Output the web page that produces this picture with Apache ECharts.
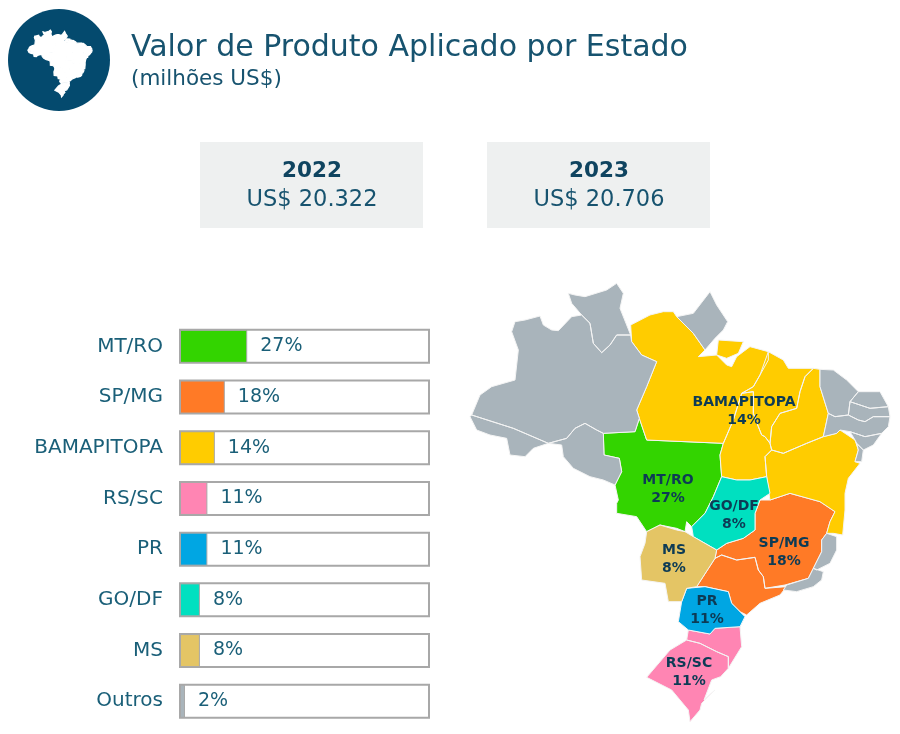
<!DOCTYPE html>
<html><head><meta charset="utf-8">
<style>html,body{margin:0;padding:0;background:#fff}#c{width:900px;height:734px}</style>
<script src="https://cdn.jsdelivr.net/npm/echarts@6/dist/echarts.min.js"></script>
</head><body><div id="c"></div>
<script>
const FONT = '"DejaVu Sans", sans-serif';
const categories = ['MT/RO','SP/MG','BAMAPITOPA','RS/SC','PR','GO/DF','MS','Outros'];
const shares = [27,18,14,11,11,8,8,2];
const colors = ['#33d400','#ff7a26','#ffcc00','#ff85b3','#00a6e3','#00e0c0','#e4c565','#a9b4bb'];
const years = ['2022','2023'];
const totals = ['US$ 20.322','US$ 20.706'];

// Outlines, in crop coordinates
const north = (pts)=>pts.map(p=>[p[0]/3+460,-(p[1]/3+280)]);
const south = (pts)=>pts.map(p=>[p[0]/3+600,-(p[1]/3+480)]);
const AM = north([[155,155],[165,125],[195,120],[240,108],[250,135],[275,150],[295,152],[335,110],[365,105],[390,130],[400,190],[425,218],[450,195],[470,165],[512,165],[515,185],[545,225],[590,245],[560,320],[530,390],[538,415],[525,455],[430,460],[410,450],[375,430],[345,445],[320,475],[265,490],[160,445],[35,405],[60,345],[95,320],[165,300],[175,210]]);
const AC = north([[30,410],[35,405],[160,445],[265,490],[220,505],[195,530],[150,525],[140,475],[90,465],[50,450]]);
const RO = north([[320,475],[345,445],[375,430],[410,450],[430,460],[432,525],[478,535],[485,575],[465,615],[430,600],[390,590],[340,565],[310,530],[305,495],[265,490]]);
const RR = north([[325,40],[345,45],[375,50],[440,30],[470,10],[490,40],[480,85],[512,165],[470,165],[450,195],[425,218],[400,190],[390,130],[365,105],[335,70]]);
const AP = north([[650,110],[700,100],[750,35],[770,75],[803,125],[790,150],[765,175],[735,210],[700,160]]);
const PA = north([[512,135],[570,105],[610,95],[640,95],[650,110],[700,160],[735,210],[715,230],[770,225],[800,255],[815,260],[830,230],[870,200],[925,215],[925,240],[900,285],[880,320],[845,340],[820,420],[790,490],[560,480],[538,415],[530,390],[560,320],[590,245],[545,225],[515,185]]);
const MJ = north([[775,180],[850,185],[835,220],[800,235],[770,225]]);
const MA = north([[925,215],[970,240],[985,265],[1060,265],[1035,290],[1020,335],[1010,385],[960,400],[935,440],[930,490],[915,470],[905,465],[895,440],[880,400],[880,335],[845,340],[880,320],[900,285]]);
const TO = north([[845,340],[880,335],[880,400],[895,440],[905,465],[915,470],[930,490],[935,510],[915,530],[920,590],[870,600],[830,600],[785,590],[780,525],[790,490],[820,420]]);
const PI = north([[1080,268],[1080,320],[1105,400],[1090,470],[1040,490],[970,520],[935,510],[930,490],[935,440],[960,400],[1010,385],[1020,335],[1035,290],[1060,265]]);
const BA = north([[1140,450],[1185,480],[1195,510],[1185,545],[1200,550],[1165,595],[1155,640],[1155,690],[1148,765],[1120,760],[1100,760],[1110,725],[1125,695],[1080,665],[990,640],[930,660],[920,590],[915,530],[935,510],[970,520],[1040,490],[1090,470],[1130,460]]);
const CE = north([[1080,268],[1120,270],[1160,300],[1195,335],[1170,365],[1165,405],[1125,410],[1105,400],[1080,320]]);
const RN = north([[1195,335],[1260,335],[1285,380],[1230,385],[1200,375],[1170,365]]);
const PB = north([[1170,365],[1200,375],[1230,385],[1285,380],[1290,410],[1240,410],[1215,425],[1195,420],[1165,405]]);
const PE = north([[1105,400],[1125,410],[1165,405],[1195,420],[1215,425],[1240,410],[1290,410],[1285,440],[1265,460],[1215,470],[1170,455],[1140,450],[1130,460],[1090,470]]);
const AL = north([[1170,455],[1215,470],[1265,460],[1240,495],[1210,510],[1190,490],[1185,480]]);
const SE = north([[1190,490],[1210,510],[1205,545],[1185,545],[1195,510]]);
const MT = north([[538,415],[560,480],[790,490],[780,525],[785,590],[760,650],[735,700],[695,740],[680,725],[675,755],[650,745],[600,735],[560,755],[530,710],[470,700],[470,670],[475,660],[465,615],[485,575],[478,535],[432,525],[430,460],[525,455]]);
const GO = south([[365,-10],[410,0],[450,0],[500,-10],[510,40],[480,60],[465,100],[465,150],[430,175],[380,190],[350,210],[280,170],[275,140],[315,100],[340,50]]);
const MS = south([[140,155],[180,135],[230,150],[255,155],[280,170],[350,210],[345,235],[290,320],[260,325],[245,365],[205,365],[195,310],[125,300],[120,230],[135,190]]);
const SP = south([[345,235],[365,225],[410,240],[465,232],[475,270],[490,290],[495,325],[560,320],[540,345],[480,370],[440,405],[420,395],[395,370],[385,335],[315,320],[290,320]]);
const MG = south([[350,210],[380,190],[430,175],[465,150],[465,100],[480,60],[510,60],[570,40],[660,65],[705,95],[690,125],[680,160],[665,180],[665,215],[640,265],[625,295],[555,315],[495,325],[490,290],[475,270],[465,232],[410,240],[365,225],[345,235]]);
const ES = south([[680,160],[710,170],[710,210],[690,250],[650,270],[640,265],[665,215],[665,180]]);
const RJ = south([[625,295],[640,265],[670,275],[665,300],[640,320],[590,335],[550,330],[560,315]]);
const PR = south([[260,325],[315,320],[385,335],[395,370],[420,395],[435,410],[420,440],[345,445],[330,462],[265,450],[235,425],[245,365]]);
const SC = south([[265,450],[330,462],[345,445],[420,440],[425,500],[385,565],[385,530],[350,515],[300,490],[260,480]]);
const RS = south([[140,592],[210,510],[260,480],[300,490],[350,515],[385,530],[385,565],[362,590],[335,600],[312,660],[345,630],[305,670],[300,690],[270,725],[265,690],[215,630]]);

const groups = {
  'MT/RO':[MT],'SP/MG':[SP,MG],'BAMAPITOPA':[PA,MJ,MA,TO,PI,BA],'RS/SC':[RS,SC],
  'PR':[PR],'GO/DF':[GO],'MS':[MS],'Outros':[AM,AC,RO,RR,AP,CE,RN,PB,PE,AL,SE,ES,RJ]
};
const labelAnchors = {'MT/RO':[668,-489],'SP/MG':[784,-552],'BAMAPITOPA':[744,-411],'RS/SC':[689,-672],'PR':[707,-610],'GO/DF':[734,-515],'MS':[674,-559],'Outros':[500,-400]};

const close = r=>[...r,r[0]];
const geo = {type:'FeatureCollection',features:categories.map(name=>({
  type:'Feature',
  properties:{name,cp:labelAnchors[name]},
  geometry:{type:'MultiPolygon',coordinates:groups[name].map(r=>[close(r)])}
}))};
echarts.registerMap('br',geo);

const chart = echarts.init(document.getElementById('c'),null,{renderer:'canvas'});
const boxes = [[200,312],[487,599]];
chart.setOption({
  animation:false,
  backgroundColor:'#fff',
  title:[
    {text:'Valor de Produto Aplicado por Estado',left:131,top:33,padding:0,textStyle:{fontFamily:FONT,fontSize:30,fontWeight:'normal',color:'#17536f'}},
    {text:'(milhões US$)',left:131,top:68,padding:0,textStyle:{fontFamily:FONT,fontSize:21.5,fontWeight:'normal',color:'#17536f'}}
  ],
  grid:{left:180,top:321,width:249,height:405.6,containLabel:false},
  xAxis:{type:'value',min:0,max:100,show:false},
  yAxis:{type:'category',inverse:true,data:categories,axisLine:{show:false},axisTick:{show:false},
    axisLabel:{margin:17,fontFamily:FONT,fontSize:20,color:'#1a5f78',padding:[3,0,0,0]}},
  geo:{map:'br',silent:true,z:3,aspectScale:1,roam:false,
    boundingCoords:[[470,-282],[890,-722]],left:28,top:30,width:64,height:67,
    itemStyle:{areaColor:'#fff',borderColor:'#fff',borderWidth:1.2},label:{show:false},
    emphasis:{disabled:true}},
  series:[
    {type:'bar',data:shares.map((v,i)=>({value:v,itemStyle:{color:colors[i]}})),barWidth:33,
      showBackground:true,backgroundStyle:{color:'#fff',borderColor:'#a8a8a8',borderWidth:2},
      itemStyle:{borderColor:'#a8a8a8',borderWidth:1},
      label:{show:true,position:'right',distance:13,formatter:p=>p.value+'%',fontFamily:FONT,fontSize:19,color:'#1a5f78'},
      emphasis:{disabled:true},silent:true},
    {type:'map',map:'br',aspectScale:1,roam:false,silent:true,z:3,
      boundingCoords:[[0,0],[900,-734]],left:0,top:0,width:900,height:734,
      data:categories.map((n,i)=>({name:n,value:shares[i],
        itemStyle:{areaColor:colors[i]},label:{show:n!=='Outros'}})),
      itemStyle:{borderColor:'#f4f4f4',borderWidth:1},
      label:{show:true,fontFamily:FONT,fontSize:14,fontWeight:700,lineHeight:18,color:'#0d3b55',
        formatter:p=>p.name+'\n'+p.value+'%'},
      emphasis:{disabled:true},select:{disabled:true}}
  ],
  graphic:[
    {type:'circle',shape:{cx:59,cy:60,r:51},style:{fill:'#044a6e'},z:1,silent:true},
    ...boxes.flatMap((b,i)=>[
      {type:'rect',shape:{x:b[0],y:142,width:223,height:86},style:{fill:'#eef0f0'},z:1,silent:true},
      {type:'text',x:b[1],y:171,style:{text:years[i],align:'center',verticalAlign:'middle',font:'700 21.5px '+FONT,fill:'#0f4460'},z:2,silent:true},
      {type:'text',x:b[1],y:200,style:{text:totals[i],align:'center',verticalAlign:'middle',font:'22.5px '+FONT,fill:'#17536f'},z:2,silent:true}
    ])
  ]
});
</script></body></html>
